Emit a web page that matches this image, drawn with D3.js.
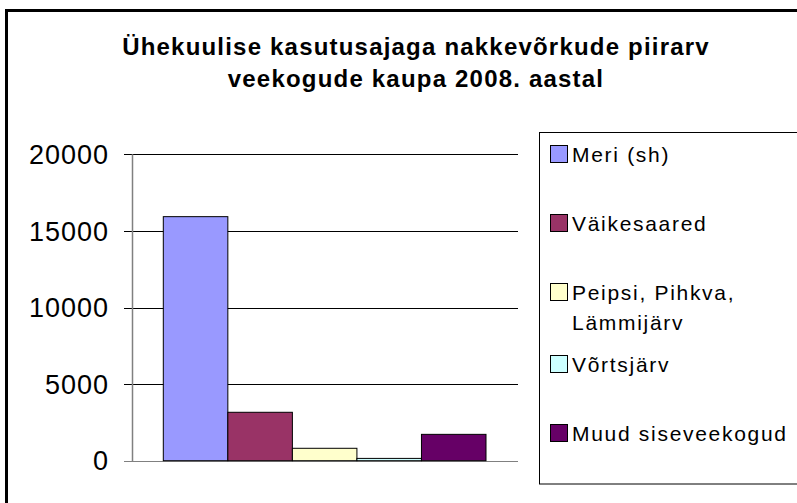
<!DOCTYPE html>
<html>
<head>
<meta charset="utf-8">
<script src="https://cdn.jsdelivr.net/npm/d3@7"></script>
<style>
  body { margin: 0; background: #fff; }
  svg text { font-family: "Liberation Sans", Arial, sans-serif; fill: #000; }
</style>
</head>
<body>
<div id="chart"></div>
<script>
// data
var titleLines = ["Ühekuulise kasutusajaga nakkevõrkude piirarv", "veekogude kaupa 2008. aastal"];
var seriesNames = ["Meri (sh)", "Väikesaared", "Peipsi, Pihkva, Lämmijärv", "Võrtsjärv", "Muud siseveekogud"];
var seriesValues = [15930, 3160, 810, 150, 1720];
var seriesColors = ["#9999ff", "#993366", "#ffffcc", "#ccffff", "#660066"];
var legendLines = [["Meri (sh)"], ["Väikesaared"], ["Peipsi, Pihkva,", "Lämmijärv"], ["Võrtsjärv"], ["Muud siseveekogud"]];
var yTicks = [0, 5000, 10000, 15000, 20000];

var width = 797, height = 503;
var svg = d3.select("#chart").append("svg")
    .attr("width", width)
    .attr("height", height);

//outer frame (runs off the right and bottom of the picture)
svg.append("rect")
    .attr("x", 6.5).attr("y", 10.5)
    .attr("width", 830).attr("height", 520)
    .attr("fill", "none")
    .attr("stroke", "#000")
    .attr("stroke-width", 3);

//title
svg.append("text")
    .attr("x", 416)
    .attr("text-anchor", "middle")
    .style("font-weight", "bold")
    .style("font-size", "24px")
    .style("letter-spacing", "1.2px")
    .selectAll("tspan")
    .data(titleLines)
    .enter()
    .append("tspan")
    .attr("x", 416)
    .attr("y", (d, i) => 55 + i * 32)
    .text(d => d);

//scales
var plotLeft = 132, plotRight = 518;
var y = d3.scaleLinear().domain([0, 20000]).range([460.7, 154.3]);
var x = d3.scaleBand().domain(seriesNames).range([163.3, 486]).padding(0);

//gridlines
svg.append("g")
    .selectAll("line")
    .data(yTicks)
    .enter()
    .append("line")
    .attr("x1", plotLeft - 8)
    .attr("x2", plotRight)
    .attr("y1", d => Math.round(y(d)) + 0.5)
    .attr("y2", d => Math.round(y(d)) + 0.5)
    .attr("stroke", d => d === 0 ? "#808080" : "#000")
    .attr("stroke-width", 1);

//y axis line
svg.append("line")
    .attr("x1", plotLeft + 0.5).attr("x2", plotLeft + 0.5)
    .attr("y1", y(20000)).attr("y2", Math.round(y(0)) + 0.5)
    .attr("stroke", "#808080")
    .attr("stroke-width", 1.5);

//tick labels
svg.append("g")
    .selectAll("text")
    .data(yTicks)
    .enter()
    .append("text")
    .attr("x", 109)
    .attr("y", d => y(d))
    .attr("dy", "0.36em")
    .attr("text-anchor", "end")
    .style("font-size", "27px")
    .style("letter-spacing", "1px")
    .text(d => d);

//bars
svg.append("g")
    .selectAll("rect")
    .data(seriesValues)
    .enter()
    .append("rect")
    .attr("x", (d, i) => x(seriesNames[i]))
    .attr("y", d => y(d))
    .attr("width", x.bandwidth())
    .attr("height", d => y(0) - y(d))
    .attr("fill", (d, i) => seriesColors[i])
    .attr("stroke", "#000")
    .attr("stroke-width", 1);

//legend
svg.append("rect")
    .attr("x", 539.5).attr("y", 132.5)
    .attr("width", 300).attr("height", 351.5)
    .attr("fill", "none")
    .attr("stroke", "#000")
    .attr("stroke-width", 1);

var legendY = [154, 223, 292, 364, 433];
var legend = svg.append("g")
    .selectAll("g")
    .data(legendLines)
    .enter()
    .append("g")
    .attr("transform", (d, i) => "translate(0," + legendY[i] + ")");

legend.append("rect")
    .attr("x", 550.5).attr("y", -8.5)
    .attr("width", 17).attr("height", 17)
    .attr("fill", (d, i) => seriesColors[i])
    .attr("stroke", "#000")
    .attr("stroke-width", 1);

legend.append("text")
    .style("font-size", "21px")
    .style("letter-spacing", "1.7px")
    .selectAll("tspan")
    .data(d => d)
    .enter()
    .append("tspan")
    .attr("x", 572)
    .attr("y", (d, i) => i * 30)
    .attr("dy", "0.36em")
    .text(d => d);
</script>
</body>
</html>
